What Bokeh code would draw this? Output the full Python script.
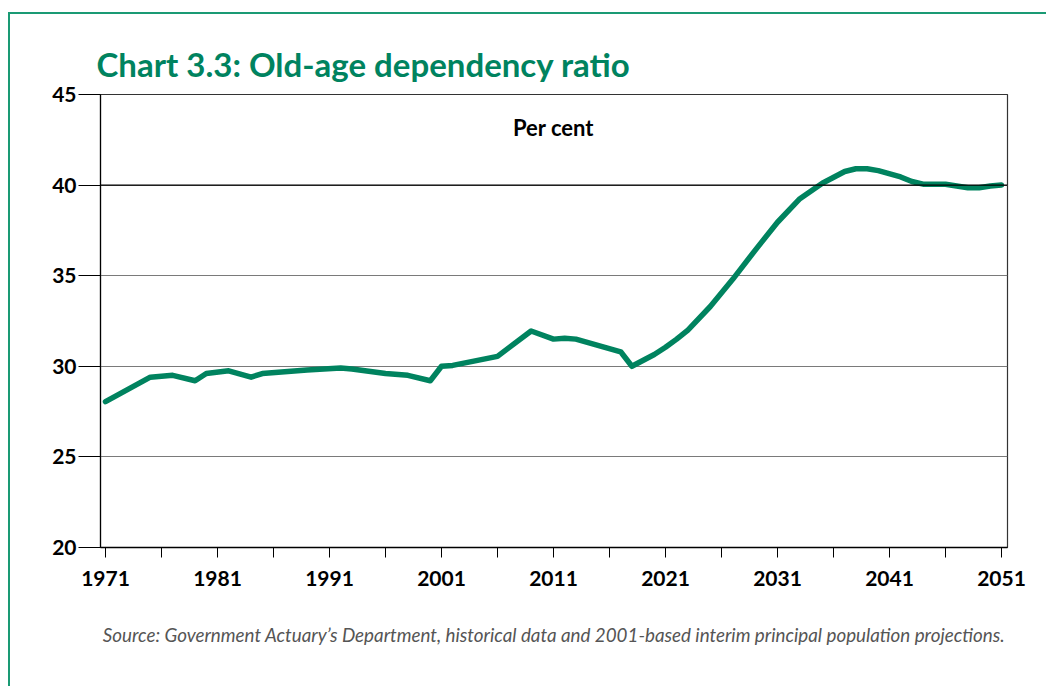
from bokeh.plotting import figure
from bokeh.models import FixedTicker, Span, Label, Title, Range1d
from bokeh.embed import file_html
from bokeh.resources import INLINE

# Data (per cent)
years = [1971, 1975, 1977, 1979, 1980, 1982, 1984, 1985, 1989, 1992, 1993, 1996,
         1998, 2000, 2001, 2002, 2006, 2009, 2011, 2012, 2013, 2017, 2018,
         2020, 2021, 2022, 2023, 2025, 2027, 2029, 2031, 2033, 2035, 2037,
         2038, 2039, 2040, 2042, 2043, 2044, 2046, 2047, 2048, 2049, 2050, 2051]
ratio = [28.05, 29.4, 29.5, 29.2, 29.6, 29.75, 29.4, 29.6, 29.8, 29.9, 29.85, 29.6,
         29.5, 29.2, 30.0, 30.05, 30.55, 31.95, 31.5, 31.55, 31.5, 30.8, 30.0,
         30.65, 31.05, 31.5, 32.0, 33.3, 34.8, 36.4, 37.95, 39.25, 40.1, 40.75,
         40.9, 40.9, 40.8, 40.45, 40.2, 40.05, 40.05, 39.95, 39.85, 39.85, 39.95, 40.0]

label_years = [1971, 1981, 1991, 2001, 2011, 2021, 2031, 2041, 2051]
minor_years = [1976, 1986, 1996, 2006, 2016, 2026, 2036, 2046]
y_ticks = [20, 25, 30, 35, 40, 45]

GREEN = "#00835f"

p = figure(width=1038, height=674, output_backend="svg", toolbar_location=None,
           x_range=Range1d(1970.554, 2051.536), y_range=Range1d(20, 45),
           min_border_left=90, min_border_right=41, min_border_top=80,
           min_border_bottom=141)
p.margin = (12, 0, 0, 8)
p.styles = {"border-left": "2px solid #1a9a74", "border-top": "2px solid #1a9a74"}
p.background_fill_color = "white"
p.border_fill_color = "white"
p.outline_line_color = "#333333"
p.outline_line_width = 1.2

p.title.text = ""

# small spacer between frame and title, then the title itself
p.add_layout(Title(text=" ", text_font_size="2px", standoff=7), "above")
p.add_layout(Title(text="Chart 3.3: Old-age dependency ratio", text_font="Lato",
                   text_font_style="bold", text_font_size="33px", text_color=GREEN,
                   align="left", offset=-4, standoff=0), "above")

# Source
src = Title(text="Source: Government Actuary\u2019s Department, historical data and 2001-based interim principal population projections.",
            text_font="Lato", text_font_style="italic", text_font_size="18.8px",
            text_color="#555555", align="center", standoff=64)
p.add_layout(src, "below")

# Axes
p.xaxis.ticker = FixedTicker(ticks=label_years, minor_ticks=minor_years)
p.xaxis.major_tick_out = 10
p.xaxis.major_tick_in = 0
p.xaxis.minor_tick_out = 10
p.xaxis.minor_tick_in = 0
p.xaxis.major_tick_line_color = "black"
p.xaxis.minor_tick_line_color = "black"
p.xaxis.axis_line_color = "black"
p.xaxis.axis_line_width = 1.5
p.xaxis.major_label_text_font = "Lato"
p.xaxis.major_label_text_font_style = "bold"
p.xaxis.major_label_text_font_size = "21px"
p.xaxis.major_label_text_color = "black"
p.xaxis.major_label_standoff = 13

p.yaxis.ticker = FixedTicker(ticks=y_ticks)
p.yaxis.major_tick_out = 22
p.yaxis.major_tick_in = 0
p.yaxis.minor_tick_line_color = None
p.yaxis.major_tick_line_color = "black"
p.yaxis.axis_line_color = "black"
p.yaxis.axis_line_width = 1.2
p.yaxis.major_label_text_font = "Lato"
p.yaxis.major_label_text_font_style = "bold"
p.yaxis.major_label_text_font_size = "21px"
p.yaxis.major_label_text_color = "black"
p.yaxis.major_label_standoff = 2

p.xgrid.grid_line_color = None
p.ygrid.grid_line_color = "#7a7a7a"
p.ygrid.grid_line_width = 1.2

p.add_layout(Span(location=40, dimension="width", line_color="black", line_width=1.2))

p.add_layout(Label(x=2011, y=43.2, text="Per cent", text_font="Lato",
                   text_font_style="bold", text_font_size="22px", text_color="black",
                   text_align="center", text_baseline="middle"))

p.line(years, ratio, line_color=GREEN, line_width=5.5, line_join="round", line_cap="round")

open("out.html", "w").write(file_html(p, INLINE))
